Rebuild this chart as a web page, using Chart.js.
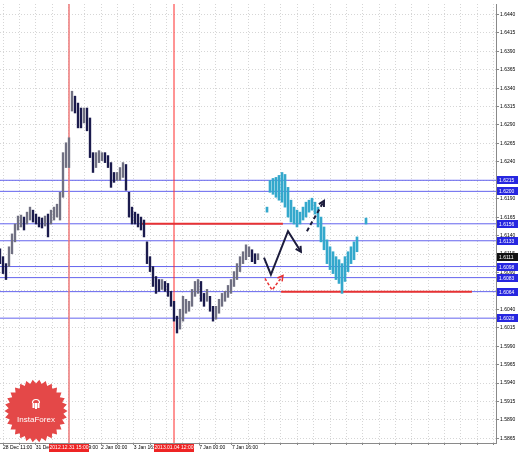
<!DOCTYPE html>
<html>
<head>
<meta charset="utf-8">
<script src="https://cdn.jsdelivr.net/npm/chart.js@4.4.0/dist/chart.umd.min.js"></script>
<style>
html, body { margin: 0; padding: 0; background: #fff; }
canvas { display: block; }
</style>
</head>
<body>
<canvas id="chart" width="518" height="453"></canvas>
<script>
// price bars, one per slot (slot = bar index)
const barHigh = [1.61221,1.61114,1.61020,1.61248,1.61423,1.61557,1.61665,1.61678,1.61651,1.61718,
  1.61786,1.61745,1.61692,1.61651,1.61638,1.61665,1.61692,1.61745,1.61786,1.61826,
  1.61987,1.62525,1.62659,1.62727,1.63358,1.63291,1.63197,1.63130,1.63130,1.63130,
  1.62995,1.62525,1.62525,1.62552,1.62525,1.62525,1.62485,1.62390,1.62256,1.62256,
  1.62323,1.62390,1.62364,1.61987,1.61786,1.61718,1.61692,1.61651,1.61611,1.61315,
  1.61114,1.60979,1.60845,1.60804,1.60804,1.60778,1.60751,1.60643,1.60509,1.60307,
  1.60401,1.60576,1.60536,1.60509,1.60670,1.60778,1.60804,1.60778,1.60616,1.60670,
  1.60576,1.60441,1.60441,1.60536,1.60616,1.60643,1.60724,1.60804,1.60912,1.61020,
  1.61114,1.61181,1.61275,1.61248,1.61208,1.61154,1.61154];
const barLow = [1.61020,1.60885,1.60804,1.60979,1.61154,1.61315,1.61476,1.61517,1.61476,1.61557,
  1.61611,1.61584,1.61557,1.61517,1.61503,1.61530,1.61382,1.61557,1.61611,1.61651,
  1.61611,1.61920,1.62323,1.62323,1.63089,1.63063,1.62861,1.62861,1.62928,1.62821,
  1.62458,1.62256,1.62323,1.62390,1.62417,1.62390,1.62323,1.62054,1.62122,1.62149,
  1.62149,1.62189,1.62014,1.61651,1.61557,1.61557,1.61517,1.61476,1.61382,1.61020,
  1.60912,1.60710,1.60616,1.60643,1.60670,1.60643,1.60576,1.60441,1.60240,1.60079,
  1.60132,1.60240,1.60347,1.60374,1.60441,1.60576,1.60616,1.60509,1.60441,1.60509,
  1.60374,1.60240,1.60267,1.60347,1.60441,1.60509,1.60562,1.60616,1.60710,1.60804,
  1.60912,1.61020,1.61073,1.61114,1.61046,1.61020,1.61073];

// cyan projection bars
const fcSlot = [89,90,91,92,93,94,95,96,97,98,99,100,101,102,103,104,105,106,107,108,
  109,110,111,112,113,114,115,116,117,118,119,122];
const fcHigh = [1.61786,1.62149,1.62175,1.62189,1.62216,1.62256,1.62229,1.62054,1.61880,1.61786,
  1.61745,1.61718,1.61786,1.61853,1.61880,1.61907,1.61853,1.61786,1.61651,1.61517,
  1.61342,1.61248,1.61181,1.61114,1.61073,1.61020,1.61114,1.61181,1.61248,1.61315,
  1.61382,1.61638];
const fcLow = [1.61718,1.61987,1.61960,1.61920,1.61880,1.61853,1.61786,1.61651,1.61584,1.61557,
  1.61517,1.61557,1.61611,1.61651,1.61718,1.61745,1.61692,1.61517,1.61315,1.61208,
  1.61020,1.60939,1.60885,1.60804,1.60751,1.60616,1.60778,1.60912,1.61020,1.61073,
  1.61181,1.61557];

// levels
const blueLevels = [1.6215, 1.6200, 1.6156, 1.6133, 1.6098, 1.6083, 1.6064, 1.6028];
const currentPrice = 1.6111;
const redUpper = { from: 46.7, to: 94.3, y: 1.6156 };
const redLower = { from: 93.7, to: 157.3, y: 1.6064 };

// arrows
const solidSlots = [88, 90.3, 96, 100.3];
const solidPrices = [1.6110, 1.6087, 1.6146, 1.6118];
const dashSlots = [102.3, 108];
const dashPrices = [1.6146, 1.6187];
const redSlots = [88.3, 90.7, 94.3];
const redPrices = [1.6082, 1.6066, 1.6086];

// vertical markers
const vLineSlots = [23, 58];
const vLineLabels = ['2012.12.31 15:00', '2013.01.04 12:00'];

// axes
const yTicks = [1.6440,1.6415,1.6390,1.6365,1.6340,1.6315,1.6290,1.6265,1.6240,1.6215,1.6190,1.6165,
  1.6140,1.6115,1.6090,1.6065,1.6040,1.6015,1.5990,1.5965,1.5940,1.5915,1.5890,1.5865];
const xLabels = ['28 Dec 11:00','31 Dec 03:00','31 Dec 19:00','2 Jan 00:00','3 Jan 16:00','4 Jan 08:00','7 Jan 00:00','7 Jan 16:00'];
const xGridStart = 1, xGridStep = 5.45;
const xMax = 165.33, yMin = 1.58587, yMax = 1.64541;

const FONT = '"Liberation Sans", Arial, sans-serif';

function pairs(xs, ys) { return xs.map((x, i) => ({ x: x, y: ys[i] })); }
function hline(y, from, to) { return [{ x: from, y: y }, { x: to, y: y }]; }

const datasets = [];
blueLevels.forEach(v => datasets.push({
  type: 'line', data: hline(v, 0, xMax), borderColor: '#6464ee', borderWidth: 1,
  pointRadius: 0, order: 10
}));
datasets.push({ type: 'line', data: [{x: vLineSlots[0], y: yMin}, {x: vLineSlots[0], y: yMax}],
  borderColor: 'rgba(238,120,120,0.75)', borderWidth: 2, pointRadius: 0, order: 9 });
datasets.push({ type: 'line', data: [{x: vLineSlots[1], y: yMin}, {x: vLineSlots[1], y: yMax}],
  borderColor: '#ff2a2a', borderWidth: 1, pointRadius: 0, order: 9 });
datasets.push({ type: 'line', data: hline(redUpper.y, redUpper.from, redUpper.to),
  borderColor: '#e83232', borderWidth: 2, pointRadius: 0, order: 8 });
datasets.push({ type: 'line', data: hline(redLower.y, redLower.from, redLower.to),
  borderColor: '#e83232', borderWidth: 2, pointRadius: 0, order: 8 });
datasets.push({
  type: 'bar', grouped: false, barThickness: 1.7, order: 5,
  data: barHigh.map((h, i) => ({ x: i, y: [barLow[i], h] })),
  backgroundColor: ctx => {
    const i = ctx.dataIndex;
    if (i === 0) return '#1b1b4d';
    const mid = barHigh[i] + barLow[i], prev = barHigh[i - 1] + barLow[i - 1];
    return mid < prev ? '#1b1b4d' : '#707082';
  }
});
datasets.push({
  type: 'bar', grouped: false, barThickness: 2, order: 4,
  data: fcSlot.map((s, i) => ({ x: s, y: [fcLow[i], fcHigh[i]] })),
  backgroundColor: '#34a8cc'
});
datasets.push({ type: 'line', data: pairs(solidSlots, solidPrices), borderColor: '#1c1c3c',
  borderWidth: 2, pointRadius: 0, order: 1, arrowHead: true });
datasets.push({ type: 'line', data: pairs(dashSlots, dashPrices), borderColor: '#1c1c3c',
  borderWidth: 2, borderDash: [4, 3], pointRadius: 0, order: 1, arrowHead: true });
datasets.push({ type: 'line', data: pairs(redSlots, redPrices), borderColor: '#e83232',
  borderWidth: 1.5, borderDash: [3, 2], pointRadius: 0, order: 1, arrowHead: true });

const extras = {
  id: 'extras',
  afterDatasetsDraw(chart) {
    const ctx = chart.ctx;
    chart.data.datasets.forEach((ds, di) => {
      if (!ds.arrowHead) return;
      const pts = chart.getDatasetMeta(di).data;
      const a = pts[pts.length - 2], b = pts[pts.length - 1];
      const ang = Math.atan2(b.y - a.y, b.x - a.x);
      ctx.save();
      ctx.strokeStyle = ds.borderColor;
      ctx.lineWidth = ds.borderWidth;
      ctx.beginPath();
      ctx.moveTo(b.x - 6 * Math.cos(ang - 0.5), b.y - 6 * Math.sin(ang - 0.5));
      ctx.lineTo(b.x, b.y);
      ctx.lineTo(b.x - 6 * Math.cos(ang + 0.5), b.y - 6 * Math.sin(ang + 0.5));
      ctx.stroke();
      ctx.restore();
    });
  },
  afterDraw(chart) {
    const ctx = chart.ctx, ys = chart.scales.y, xs = chart.scales.x, area = chart.chartArea;
    ctx.save();
    ctx.font = '5px ' + FONT;
    ctx.textBaseline = 'middle';
    // price level boxes
    blueLevels.concat([currentPrice]).forEach(v => {
      const py = Math.round(ys.getPixelForValue(v));
      ctx.fillStyle = v === currentPrice ? '#111111' : '#2626e0';
      ctx.fillRect(area.right + 1, py - 4, 21, 8);
      ctx.fillStyle = '#ffffff';
      ctx.textAlign = 'left';
      ctx.fillText(v.toFixed(4), area.right + 3, py + 0.5);
    });
    // date boxes of vertical lines
    vLineSlots.forEach((s, i) => {
      const px = xs.getPixelForValue(s);
      ctx.fillStyle = '#ee2424';
      ctx.fillRect(px - 20, area.bottom + 1, 40, 8);
      ctx.fillStyle = '#ffffff';
      ctx.textAlign = 'center';
      ctx.fillText(vLineLabels[i], px, area.bottom + 5);
    });
    // logo
    const cx = 36, cy = 411, spikes = 30;
    ctx.beginPath();
    for (let i = 0; i < spikes * 2; i++) {
      const r = i % 2 ? 27.5 : 31.5, a = Math.PI * i / spikes;
      ctx.lineTo(cx + r * Math.cos(a), cy + r * Math.sin(a));
    }
    ctx.closePath();
    ctx.fillStyle = '#e44848';
    ctx.fill();
    ctx.strokeStyle = '#ffffff';
    ctx.lineWidth = 1.2;
    ctx.beginPath();
    ctx.arc(cx, cy - 8, 3.5, Math.PI, 0);
    ctx.stroke();
    ctx.fillStyle = '#ffffff';
    ctx.fillRect(cx - 3.5, cy - 8, 2, 5);
    ctx.fillRect(cx - 1, cy - 8, 2, 6);
    ctx.fillRect(cx + 1.5, cy - 8, 2, 5);
    ctx.font = '8px ' + FONT;
    ctx.textAlign = 'center';
    ctx.fillText('InstaForex', cx, cy + 9);
    ctx.restore();
  }
};

new Chart(document.getElementById('chart'), {
  type: 'line',
  data: { datasets: datasets },
  options: {
    responsive: false,
    animation: false,
    devicePixelRatio: 1,
    layout: { padding: 0 },
    plugins: { legend: { display: false }, tooltip: { enabled: false } },
    scales: {
      x: {
        type: 'linear', min: 0, max: xMax, offset: false,
        grid: { color: '#d6d6d6', tickLength: 2, offset: false, tickColor: '#888' },
        border: { display: true, color: '#8a8a8a', dash: [1, 2] },
        afterBuildTicks: axis => {
          const t = [];
          for (let v = xGridStart; v <= xMax; v += xGridStep) t.push({ value: v });
          axis.ticks = t;
        },
        afterFit: scale => { scale.height = 10; },
        ticks: {
          autoSkip: false, maxRotation: 0, align: 'start', padding: 0, color: '#000',
          font: { size: 5, family: FONT },
          callback: (v, i) => (i % 2 === 0 && i / 2 < xLabels.length) ? xLabels[i / 2] : ''
        }
      },
      y: {
        type: 'linear', position: 'right', min: yMin, max: yMax, beginAtZero: false,
        grid: { color: '#d6d6d6', tickLength: 3, tickColor: '#888' },
        border: { display: true, color: '#8a8a8a', dash: [1, 2] },
        afterBuildTicks: axis => { axis.ticks = yTicks.map(v => ({ value: v })); },
        afterFit: scale => { scale.width = 22; },
        ticks: {
          padding: 1, color: '#000', font: { size: 5, family: FONT },
          callback: v => v.toFixed(4)
        }
      }
    }
  },
  plugins: [extras]
});
</script>
</body>
</html>
